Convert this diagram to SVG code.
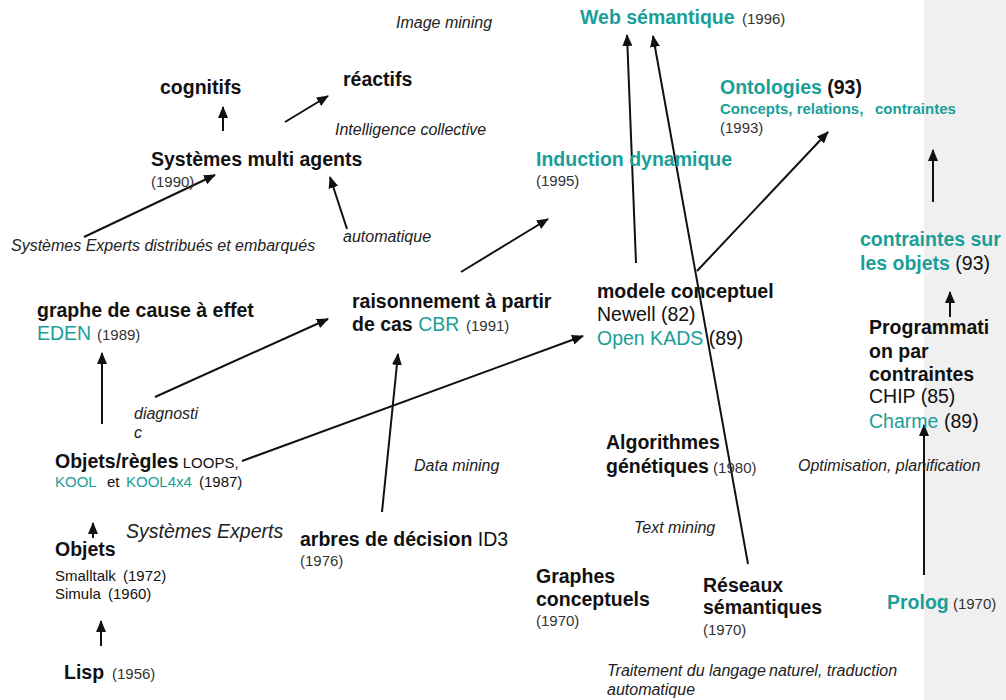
<svg xmlns="http://www.w3.org/2000/svg" width="1006" height="700" viewBox="0 0 1006 700">
<style>
text{font-family:"Liberation Sans",Arial,sans-serif;fill:#111}
.b{font-weight:bold;font-size:19.5px}
.n{font-size:19.5px}
.y{font-size:15px;fill:#333}
.s{font-size:15px}
.i{font-style:italic;font-size:16px;fill:#222}
.I{font-style:italic;font-size:19.5px;fill:#222}
.t{fill:#1a9e98}
.line{stroke:#111;stroke-width:2;fill:none;marker-end:url(#ah)}
</style>
<defs>
<marker id="ah" markerWidth="12" markerHeight="10" refX="11" refY="5" orient="auto" markerUnits="userSpaceOnUse"><path d="M0,0 L12,5 L0,10 z" fill="#111"/></marker>
</defs>
<rect x="924" y="0" width="82" height="700" fill="#f0f0f0"/>

<g id="connectors">
<line class="line" x1="223" y1="131" x2="223" y2="107"/>
<line class="line" x1="285" y1="122" x2="328" y2="96"/>
<line class="line" x1="84" y1="237" x2="215" y2="175"/>
<line class="line" x1="347" y1="229" x2="330" y2="177"/>
<line class="line" x1="636" y1="263" x2="627" y2="35"/>
<line class="line" x1="748" y1="564" x2="653" y2="36"/>
<line class="line" x1="697" y1="271" x2="828" y2="132"/>
<line class="line" x1="461" y1="272" x2="548" y2="219"/>
<line class="line" x1="933" y1="202" x2="933" y2="150"/>
<line class="line" x1="950" y1="317" x2="950" y2="292"/>
<line class="line" x1="924" y1="575" x2="924" y2="425"/>
<line class="line" x1="102" y1="424" x2="102" y2="353"/>
<line class="line" x1="155" y1="397" x2="328" y2="319"/>
<line class="line" x1="242" y1="461" x2="583" y2="336"/>
<line class="line" x1="382" y1="512" x2="398" y2="354"/>
<line class="line" x1="93" y1="538" x2="93" y2="523"/>
<line class="line" x1="101" y1="646" x2="101" y2="621"/>
</g>

<g id="image-mining"><text class="i" x="396" y="28">Image mining</text></g>
<g id="web-semantique"><text x="580" y="24"><tspan class="b t">Web sémantique</tspan><tspan class="y" x="742">(1996)</tspan></text></g>
<g id="cognitifs"><text class="b" x="160" y="94">cognitifs</text></g>
<g id="reactifs"><text class="b" x="343" y="86">réactifs</text></g>
<g id="intelligence-collective"><text class="i" x="335" y="135">Intelligence collective</text></g>
<g id="sma"><text class="b" x="151" y="166">Systèmes multi agents</text><text class="y" x="151" y="187">(1990)</text></g>
<g id="se-distribues"><text class="i" x="11" y="251">Systèmes Experts distribués et embarqués</text></g>
<g id="automatique"><text class="i" x="343" y="242">automatique</text></g>
<g id="ontologies">
<text x="720" y="94"><tspan class="b t">Ontologies</tspan><tspan class="b"> (93)</tspan></text>
<text class="t" x="720" y="114" style="font-weight:bold;font-size:15px">Concepts, relations,<tspan x="875">contraintes</tspan></text>
<text class="y" x="720" y="133">(1993)</text>
</g>
<g id="induction"><text class="b t" x="536" y="166">Induction dynamique</text><text class="y" x="536" y="186">(1995)</text></g>
<g id="contraintes-objets"><text class="b t" x="860" y="246">contraintes sur</text><text x="860" y="270"><tspan class="b t">les objets</tspan><tspan class="n"> (93)</tspan></text></g>
<g id="graphe-cause"><text class="b" x="37" y="317">graphe de cause à effet</text><text x="37" y="340"><tspan class="n t">EDEN</tspan><tspan class="y" x="97">(1989)</tspan></text></g>
<g id="cbr"><text class="b" x="352" y="308">raisonnement à partir</text><text x="352" y="331"><tspan class="b">de cas </tspan><tspan class="n t">CBR</tspan><tspan class="y" x="466">(1991)</tspan></text></g>
<g id="modele-conceptuel"><text class="b" x="597" y="298">modele conceptuel</text><text class="n" x="597" y="321">Newell (82)</text><text x="597" y="345"><tspan class="n t">Open KADS</tspan><tspan class="n"> (89)</tspan></text></g>
<g id="programmation-contraintes">
<text class="b" x="869" y="334">Programmati</text>
<text class="b" x="869" y="358">on par</text>
<text class="b" x="869" y="381">contraintes</text>
<text class="n" x="869" y="403">CHIP (85)</text>
<text x="869" y="428"><tspan class="n t">Charme</tspan><tspan class="n" x="944">(89)</tspan></text>
</g>
<g id="algorithmes-genetiques"><text class="b" x="606" y="449">Algorithmes</text><text x="606" y="473"><tspan class="b">génétiques</tspan><tspan class="y"> (1980)</tspan></text></g>
<g id="optimisation"><text class="i" x="798" y="471">Optimisation, planification</text></g>
<g id="diagnostic"><text class="i" x="134" y="419">diagnosti</text><text class="i" x="134" y="438">c</text></g>
<g id="objets-regles">
<text x="55" y="468"><tspan class="b">Objets/règles</tspan><tspan class="s"> LOOPS,</tspan></text>
<text class="s" x="55" y="487"><tspan class="t">KOOL</tspan><tspan x="107">et</tspan><tspan class="t" x="126">KOOL4x4</tspan><tspan x="199">(1987)</tspan></text>
</g>
<g id="data-mining"><text class="i" x="414" y="471">Data mining</text></g>
<g id="systemes-experts"><text class="I" x="126" y="538">Systèmes Experts</text></g>
<g id="objets"><text class="b" x="55" y="556">Objets</text><text class="s" x="55" y="581">Smalltalk<tspan x="123">(1972)</tspan></text><text class="s" x="55" y="599">Simula<tspan x="108">(1960)</tspan></text></g>
<g id="lisp"><text x="64" y="679"><tspan class="b">Lisp</tspan><tspan class="y" x="112">(1956)</tspan></text></g>
<g id="arbres-decision"><text x="300" y="546"><tspan class="b">arbres de décision</tspan><tspan class="n"> ID3</tspan></text><text class="y" x="300" y="566">(1976)</text></g>
<g id="text-mining"><text class="i" x="634" y="533">Text mining</text></g>
<g id="graphes-conceptuels"><text class="b" x="536" y="583">Graphes</text><text class="b" x="536" y="606">conceptuels</text><text class="y" x="536" y="626">(1970)</text></g>
<g id="reseaux-semantiques"><text class="b" x="703" y="592">Réseaux</text><text class="b" x="703" y="614">sémantiques</text><text class="y" x="703" y="635">(1970)</text></g>
<g id="prolog"><text x="887" y="609"><tspan class="b t">Prolog</tspan><tspan class="y"> (1970)</tspan></text></g>
<g id="traitement-langage"><text class="i" x="607" y="676">Traitement du langage<tspan x="769">naturel, traduction</tspan></text><text class="i" x="607" y="695">automatique</text></g>
</svg>
